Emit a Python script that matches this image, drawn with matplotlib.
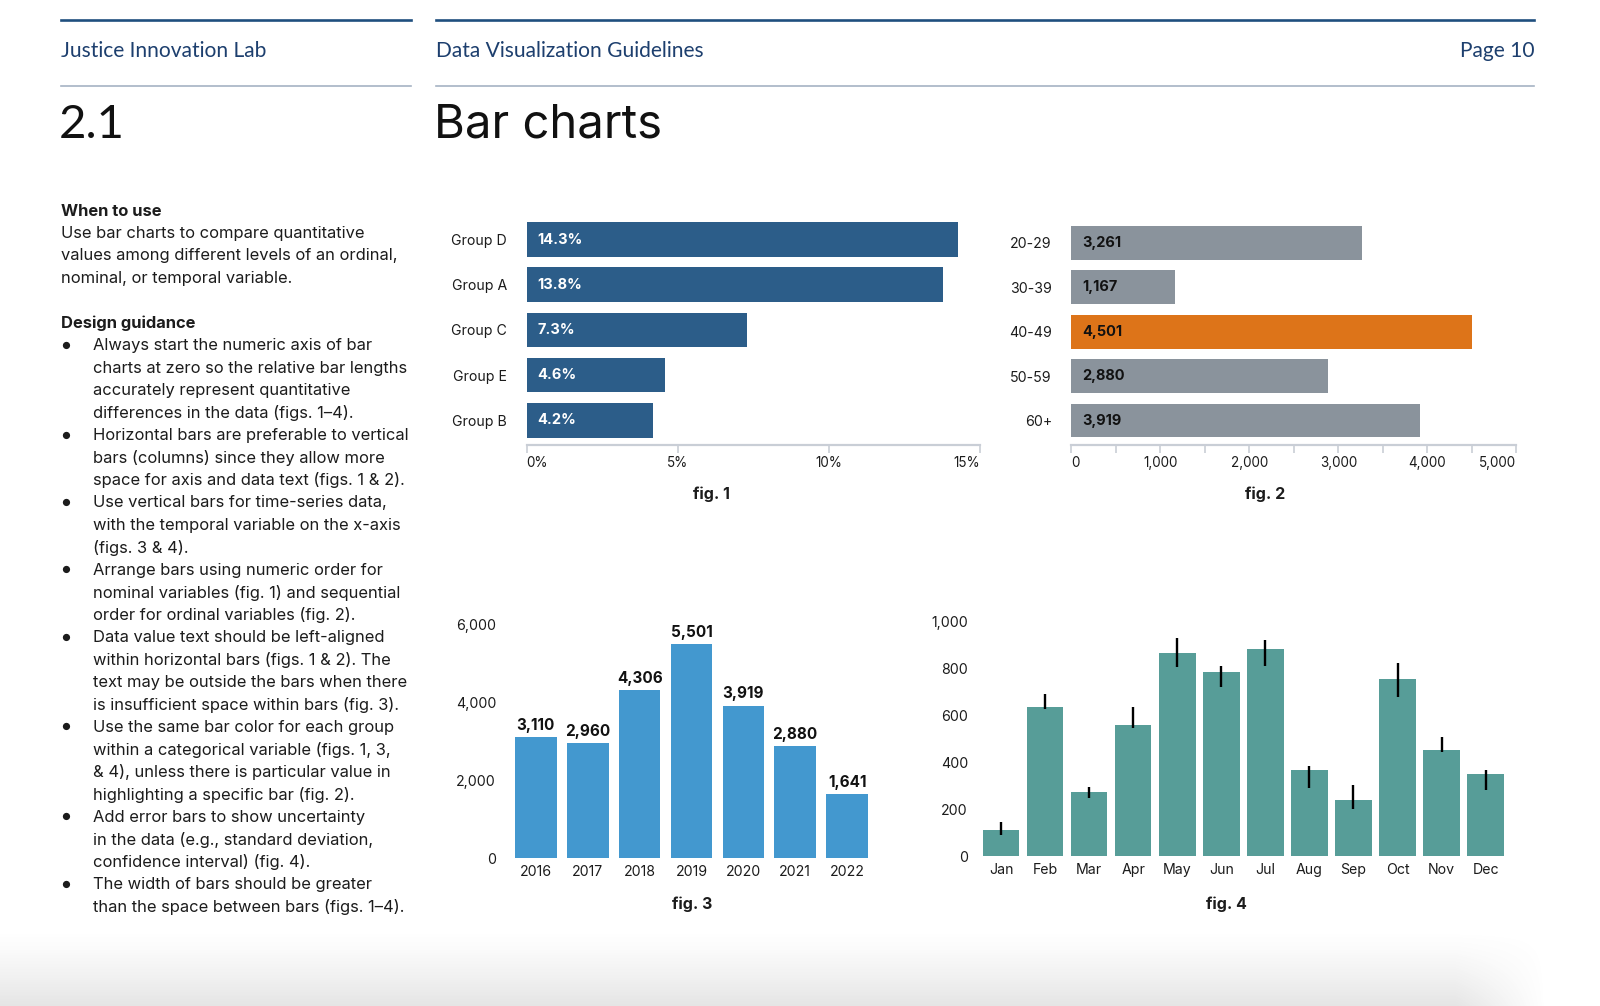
import matplotlib
matplotlib.use("Agg")
import matplotlib.pyplot as plt
from matplotlib.lines import Line2D
import numpy as np

# fig. 1 data
groups = ["Group D", "Group A", "Group C", "Group E", "Group B"]
group_pct = [14.3, 13.8, 7.3, 4.6, 4.2]

# fig. 2 data
age_bands = ["20-29", "30-39", "40-49", "50-59", "60+"]
age_counts = [3261, 1167, 4501, 2880, 3919]
highlight_band = "40-49"

# fig. 3 data
years = ["2016", "2017", "2018", "2019", "2020", "2021", "2022"]
year_counts = [3110, 2960, 4306, 5501, 3919, 2880, 1641]

# fig. 4 data (bar value, lower and upper end of error bar)
months = ["Jan", "Feb", "Mar", "Apr", "May", "Jun",
          "Jul", "Aug", "Sep", "Oct", "Nov", "Dec"]
month_vals = [112, 637, 271, 560, 866, 783, 883, 368, 239, 756, 453, 349]
month_lo = [88, 627, 248, 546, 806, 721, 812, 291, 201, 679, 442, 281]
month_hi = [147, 692, 295, 637, 930, 811, 920, 386, 302, 822, 506, 366]

when_to_use = ["Use bar charts to compare quantitative",
               "values among different levels of an ordinal,",
               "nominal, or temporal variable."]
guidance = [
    ["Always start the numeric axis of bar",
     "charts at zero so the relative bar lengths",
     "accurately represent quantitative",
     "differences in the data (figs. 1\u20134)."],
    ["Horizontal bars are preferable to vertical",
     "bars (columns) since they allow more",
     "space for axis and data text (figs. 1 & 2)."],
    ["Use vertical bars for time-series data,",
     "with the temporal variable on the x-axis",
     "(figs. 3 & 4)."],
    ["Arrange bars using numeric order for",
     "nominal variables (fig. 1) and sequential",
     "order for ordinal variables (fig. 2)."],
    ["Data value text should be left-aligned",
     "within horizontal bars (figs. 1 & 2). The",
     "text may be outside the bars when there",
     "is insufficient space within bars (fig. 3)."],
    ["Use the same bar color for each group",
     "within a categorical variable (figs. 1, 3,",
     "& 4), unless there is particular value in",
     "highlighting a specific bar (fig. 2)."],
    ["Add error bars to show uncertainty",
     "in the data (e.g., standard deviation,",
     "confidence interval) (fig. 4)."],
    ["The width of bars should be greater",
     "than the space between bars (figs. 1\u20134)."],
]

W, H = 1600, 1006
plt.rcParams['font.family'] = ['Inter', 'DejaVu Sans']
TXT = "#1c1c1c"
HEAD = "#1d3f6e"
AXC = "#c9ced6"
BODY = 11.9

fig = plt.figure(figsize=(W / 100, H / 100), dpi=100)


def box(l, t, r, b):
    return [l / W, 1 - b / H, (r - l) / W, (b - t) / H]


def fx(x):
    return x / W


def fy(y):
    return 1 - y / H


# soft page shadow at the bottom
bg = fig.add_axes([0, 0, 1, 1], zorder=-5)
bg.axis("off")
yy = np.arange(H)[:, None]
xx = np.arange(W)[None, :]
a = np.clip((yy - 930) / 76.0, 0, 1) ** 1.3 * 0.19
a = a * np.clip((1545 - xx) / 90.0, 0, 1)
img = np.zeros((H, W, 4))
img[..., :3] = 0.45
img[..., 3] = a
bg.imshow(img, extent=[0, W, H, 0], aspect="auto")
bg.set_xlim(0, W)
bg.set_ylim(H, 0)

# header rules
for x0, x1 in [(61, 411), (436, 1534)]:
    fig.add_artist(Line2D([fx(x0), fx(x1)], [fy(19.5), fy(19.5)],
                          color="#1f4f7e", lw=1.9, transform=fig.transFigure))
    fig.add_artist(Line2D([fx(x0), fx(x1)], [fy(85.5), fy(85.5)],
                          color="#a6b3c3", lw=1.2, transform=fig.transFigure))

hfont = ['Lato', 'DejaVu Sans']
fig.text(fx(61), fy(51), "Justice Innovation Lab", fontsize=15.1, color=HEAD,
         va="center", family=hfont)
fig.text(fx(436), fy(51), "Data Visualization Guidelines", fontsize=15.1,
         color=HEAD, va="center", family=hfont)
fig.text(fx(1534), fy(51), "Page 10", fontsize=15.1, color=HEAD, va="center",
         ha="right", family=hfont)
fig.text(fx(59), fy(125), "2.1", fontsize=34, color="#111111", va="center",
         family=hfont)
fig.text(fx(434), fy(125), "Bar charts", fontsize=34, color="#111111",
         va="center")

# left column text
LS = 22.45
y = 211
fig.text(fx(61), fy(y), "When to use", fontsize=BODY, fontweight="bold",
         color=TXT, va="center")
for line in when_to_use:
    y += LS
    fig.text(fx(61), fy(y), line, fontsize=BODY, color=TXT, va="center")
y += 2 * LS
fig.text(fx(61), fy(y), "Design guidance", fontsize=BODY, fontweight="bold",
         color=TXT, va="center")
for item in guidance:
    for k, line in enumerate(item):
        y += LS
        if k == 0:
            fig.text(fx(66), fy(y), "\u25CF", fontsize=7, color=TXT,
                     va="center", ha="center")
        fig.text(fx(93), fy(y), line, fontsize=BODY, color=TXT, va="center")

TICK = 10.2


def hbar_axis(ax, ticks, minor=None):
    for s in ["top", "right", "left"]:
        ax.spines[s].set_visible(False)
    ax.spines["bottom"].set_color(AXC)
    ax.spines["bottom"].set_linewidth(1.6)
    ax.set_xticks(ticks)
    if minor is not None:
        ax.set_xticks(minor, minor=True)
    ax.tick_params(axis="x", which="both", length=6, width=1.2, color=AXC,
                   labelsize=TICK - 0.5, labelcolor=TXT, pad=2)
    ax.tick_params(axis="y", length=0, labelsize=TICK, labelcolor=TXT, pad=14)
    labs = ax.get_xticklabels()
    labs[0].set_horizontalalignment("left")
    labs[-1].set_horizontalalignment("right")


# fig. 1
ax1 = fig.add_axes(box(526.5, 217.2, 979.6, 445))
pos = np.arange(len(groups))
ax1.barh(pos, group_pct, height=0.77, color="#2c5d89")
ax1.set_ylim(4.55, -0.5)
ax1.set_xlim(0, 15)
ax1.set_yticks(pos, groups)
ax1.set_xticks([0, 5, 10, 15], ["0%", "5%", "10%", "15%"])
hbar_axis(ax1, [0, 5, 10, 15])
for i, v in enumerate(group_pct):
    ax1.annotate(f"{v}%", (0, i), xytext=(8, 0), textcoords="offset points",
                 va="center", ha="left", color="white", fontsize=10.5,
                 fontweight="bold")
fig.text(fx(711), fy(494), "fig. 1", fontsize=11.5, fontweight="bold",
         color=TXT, ha="center", va="center")

# fig. 2
ax2 = fig.add_axes(box(1071.4, 220.5, 1516.3, 445))
pos = np.arange(len(age_bands))
cols = ["#dd7419" if b == highlight_band else "#8a939c" for b in age_bands]
ax2.barh(pos, age_counts, height=0.76, color=cols)
ax2.set_ylim(4.55, -0.5)
ax2.set_xlim(0, 5000)
ax2.set_yticks(pos, age_bands)
ax2.set_xticks([0, 1000, 2000, 3000, 4000, 5000],
               ["0", "1,000", "2,000", "3,000", "4,000", "5,000"])
hbar_axis(ax2, [0, 1000, 2000, 3000, 4000, 5000],
          minor=[500, 1500, 2500, 3500, 4500])
for i, v in enumerate(age_counts):
    ax2.annotate(f"{v:,}", (0, i), xytext=(8, 0), textcoords="offset points",
                 va="center", ha="left", color="#111111", fontsize=10.5,
                 fontweight="bold")
fig.text(fx(1265), fy(494), "fig. 2", fontsize=11.5, fontweight="bold",
         color=TXT, ha="center", va="center")


def col_axis(ax):
    for s in ax.spines.values():
        s.set_visible(False)
    ax.tick_params(length=0, labelsize=TICK, labelcolor=TXT)


# fig. 3
ax3 = fig.add_axes(box(510, 624.5, 873, 858.2))
pos = np.arange(len(years))
ax3.bar(pos, year_counts, width=0.8, color="#4398cf")
ax3.set_xlim(-0.5, len(years) - 0.5)
ax3.set_ylim(0, 6000)
ax3.set_xticks(pos, years)
ax3.set_yticks([0, 2000, 4000, 6000], ["0", "2,000", "4,000", "6,000"])
col_axis(ax3)
ax3.tick_params(axis="y", pad=10)
ax3.tick_params(axis="x", pad=5)
for i, v in enumerate(year_counts):
    ax3.annotate(f"{v:,}", (i, v), xytext=(0, 3), textcoords="offset points",
                 va="bottom", ha="center", color="#111111", fontsize=11,
                 fontweight="bold")
fig.text(fx(692), fy(904), "fig. 3", fontsize=11.5, fontweight="bold",
         color=TXT, ha="center", va="center")

# fig. 4
ax4 = fig.add_axes(box(979, 621.4, 1507.7, 856.1))
pos = np.arange(len(months))
ax4.bar(pos, month_vals, width=0.83, color="#579d98")
ax4.vlines(pos, month_lo, month_hi, color="black", lw=1.7)
ax4.set_xlim(-0.5, len(months) - 0.5)
ax4.set_ylim(0, 1000)
ax4.set_xticks(pos, months)
ax4.set_yticks([0, 200, 400, 600, 800, 1000],
               ["0", "200", "400", "600", "800", "1,000"])
col_axis(ax4)
ax4.tick_params(axis="y", pad=8)
ax4.tick_params(axis="x", pad=5)
fig.text(fx(1226.5), fy(904), "fig. 4", fontsize=11.5, fontweight="bold",
         color=TXT, ha="center", va="center")

fig.savefig("out.png", dpi=100)
